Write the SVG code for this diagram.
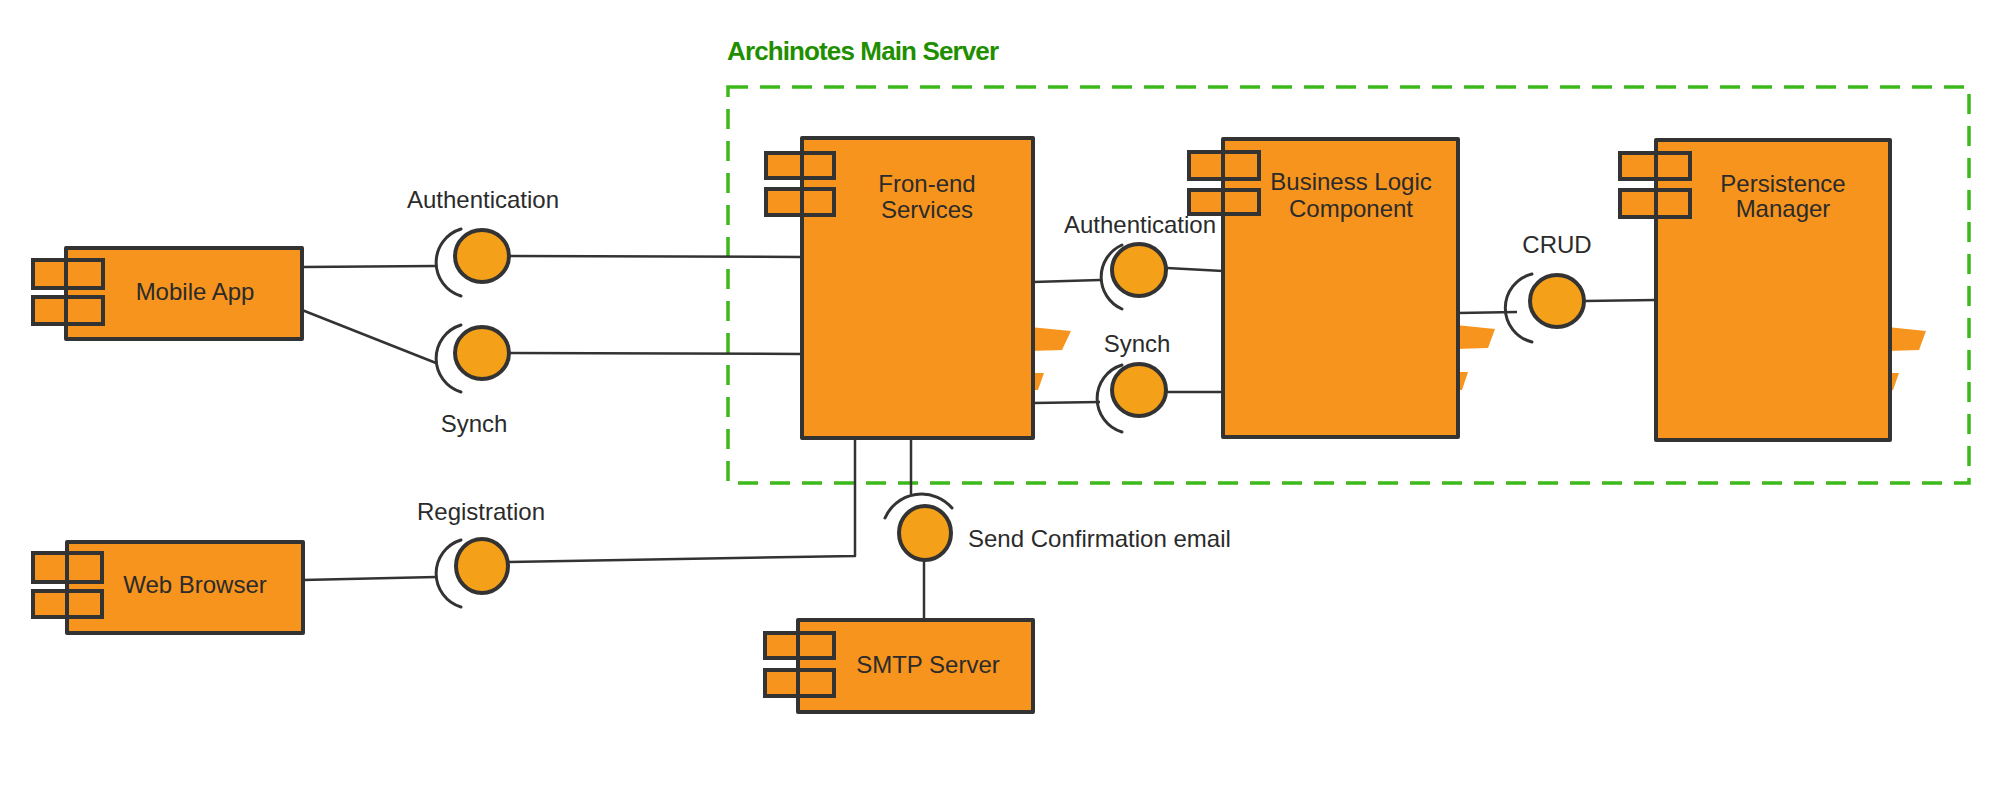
<svg xmlns="http://www.w3.org/2000/svg" width="2000" height="800" viewBox="0 0 2000 800">
<style>
.fill{fill:#F7941D;stroke:none}
.box{fill:none;stroke:#333;stroke-width:4;stroke-linejoin:round}
.tab{fill:none;stroke:#333;stroke-width:4}
.ball{fill:#F4A019;stroke:#333;stroke-width:4}
.arc{fill:none;stroke:#333;stroke-width:3;stroke-linecap:round}
.con{fill:none;stroke:#333;stroke-width:2.5;stroke-linejoin:round}
.lbl{font-family:"Liberation Sans",Arial,sans-serif;font-size:24px;fill:#2b2b2b;text-anchor:middle}
.title{font-family:"Liberation Sans",Arial,sans-serif;font-size:26px;font-weight:bold;fill:#1f8f00}
</style>
<rect width="2000" height="800" fill="#fff"/>

<g id="container">
<rect x="728" y="87" width="1241" height="396" fill="none" stroke="#3DB81A" stroke-width="3.5" stroke-dasharray="20 12"/>
<text class="title" x="727" y="60" textLength="272">Archinotes Main Server</text>
</g>

<g id="connectors">
<polyline class="con" points="302,267 436,266"/>
<polyline class="con" points="302,310 436,363"/>
<polyline class="con" points="509,256 802,257"/>
<polyline class="con" points="509,353 802,354"/>
<polyline class="con" points="303,580 436,577"/>
<polyline class="con" points="509,562 855,556 855,438"/>
<polyline class="con" points="1033,282 1100,280"/>
<polyline class="con" points="1167,268 1223,271"/>
<polyline class="con" points="1033,403 1100,402"/>
<polyline class="con" points="1167,392 1223,392"/>
<polyline class="con" points="1458,313 1517,312"/>
<polyline class="con" points="1584,301 1656,300"/>
<polyline class="con" points="911,438 911,494"/>
<polyline class="con" points="924,560 924,620"/>
</g>

<g id="mobile-app">
<rect class="fill" x="68" y="250" width="232" height="87"/>
<rect class="fill" x="35" y="262" width="66" height="24"/>
<rect class="fill" x="35" y="299" width="66" height="23"/>
<rect class="box" x="66" y="248" width="236" height="91"/>
<rect class="tab" x="33" y="260" width="70" height="28"/>
<rect class="tab" x="33" y="297" width="70" height="27"/>
<text class="lbl" x="195" y="300">Mobile App</text>
</g>

<g id="web-browser">
<rect class="fill" x="69" y="544" width="232" height="87"/>
<rect class="fill" x="35" y="555" width="66" height="25"/>
<rect class="fill" x="35" y="593" width="66" height="22"/>
<rect class="box" x="67" y="542" width="236" height="91"/>
<rect class="tab" x="33" y="553" width="69" height="29"/>
<rect class="tab" x="33" y="591" width="69" height="26"/>
<text class="lbl" x="195" y="593">Web Browser</text>
</g>

<g id="front-end-services">
<rect class="fill" x="804" y="140" width="228" height="298"/>
<path class="fill" d="M1030,327 L1071,331 L1062,350 L1030,351 Z"/>
<path class="fill" d="M1030,373 L1044,373 L1038,390 L1030,390 Z"/>
<rect class="fill" x="768" y="155" width="64" height="21"/>
<rect class="fill" x="768" y="191" width="64" height="22"/>
<rect class="box" x="802" y="138" width="231" height="300"/>
<rect class="tab" x="766" y="153" width="68" height="25"/>
<rect class="tab" x="766" y="189" width="68" height="26"/>
<text class="lbl" x="927" y="192">Fron-end</text>
<text class="lbl" x="927" y="218">Services</text>
</g>

<g id="business-logic-component">
<rect class="fill" x="1225" y="141" width="232" height="295"/>
<path class="fill" d="M1456,325 L1495,329 L1488,348 L1456,349 Z"/>
<path class="fill" d="M1456,372 L1468,372 L1462,390 L1456,390 Z"/>
<rect class="fill" x="1191" y="154" width="66" height="23"/>
<rect class="fill" x="1191" y="192" width="66" height="20"/>
<rect class="box" x="1223" y="139" width="235" height="298"/>
<rect class="tab" x="1189" y="152" width="70" height="27"/>
<rect class="tab" x="1189" y="190" width="70" height="24"/>
<text class="lbl" x="1351" y="190">Business Logic</text>
<text class="lbl" x="1351" y="217">Component</text>
</g>

<g id="persistence-manager">
<rect class="fill" x="1658" y="142" width="231" height="297"/>
<path class="fill" d="M1887,327 L1926,331 L1919,350 L1887,351 Z"/>
<path class="fill" d="M1887,373 L1899,373 L1893,390 L1887,390 Z"/>
<rect class="fill" x="1622" y="155" width="66" height="22"/>
<rect class="fill" x="1622" y="192" width="66" height="23"/>
<rect class="box" x="1656" y="140" width="234" height="300"/>
<rect class="tab" x="1620" y="153" width="70" height="26"/>
<rect class="tab" x="1620" y="190" width="70" height="27"/>
<text class="lbl" x="1783" y="192">Persistence</text>
<text class="lbl" x="1783" y="217">Manager</text>
</g>

<g id="smtp-server">
<rect class="fill" x="800" y="622" width="232" height="88"/>
<rect class="fill" x="767" y="635" width="65" height="21"/>
<rect class="fill" x="767" y="672" width="65" height="22"/>
<rect class="box" x="798" y="620" width="235" height="92"/>
<rect class="tab" x="765" y="633" width="69" height="25"/>
<rect class="tab" x="765" y="670" width="69" height="26"/>
<text class="lbl" x="928" y="673">SMTP Server</text>
</g>

<g id="if-authentication-outer">
<path class="arc" d="M461,229 A35,35 0 0 0 461,296"/>
<ellipse class="ball" cx="482" cy="256" rx="27" ry="26"/>
<text class="lbl" x="483" y="208">Authentication</text>
</g>

<g id="if-synch-outer">
<path class="arc" d="M461,325 A35,35 0 0 0 461,392"/>
<ellipse class="ball" cx="482" cy="353" rx="27" ry="26"/>
<text class="lbl" x="474" y="432">Synch</text>
</g>

<g id="if-registration">
<path class="arc" d="M461,540 A35,35 0 0 0 461,607"/>
<ellipse class="ball" cx="482" cy="566" rx="26" ry="27"/>
<text class="lbl" x="481" y="520">Registration</text>
</g>

<g id="if-authentication-inner">
<path class="arc" d="M1122,245 A35,35 0 0 0 1122,309"/>
<ellipse class="ball" cx="1139" cy="270" rx="27" ry="26"/>
<text class="lbl" x="1140" y="233">Authentication</text>
</g>

<g id="if-synch-inner">
<path class="arc" d="M1122,365 A35,35 0 0 0 1122,432"/>
<ellipse class="ball" cx="1139" cy="390" rx="27" ry="26"/>
<text class="lbl" x="1137" y="352">Synch</text>
</g>

<g id="if-crud">
<path class="arc" d="M1532,274 A35,35 0 0 0 1532,342"/>
<ellipse class="ball" cx="1557" cy="301" rx="27" ry="26"/>
<text class="lbl" x="1557" y="253">CRUD</text>
</g>

<g id="if-send-confirmation">
<path class="arc" d="M885,518 A40,40 0 0 1 952,508"/>
<ellipse class="ball" cx="925" cy="533" rx="26" ry="27"/>
<text class="lbl" x="968" y="547" style="text-anchor:start">Send Confirmation email</text>
</g>
</svg>
